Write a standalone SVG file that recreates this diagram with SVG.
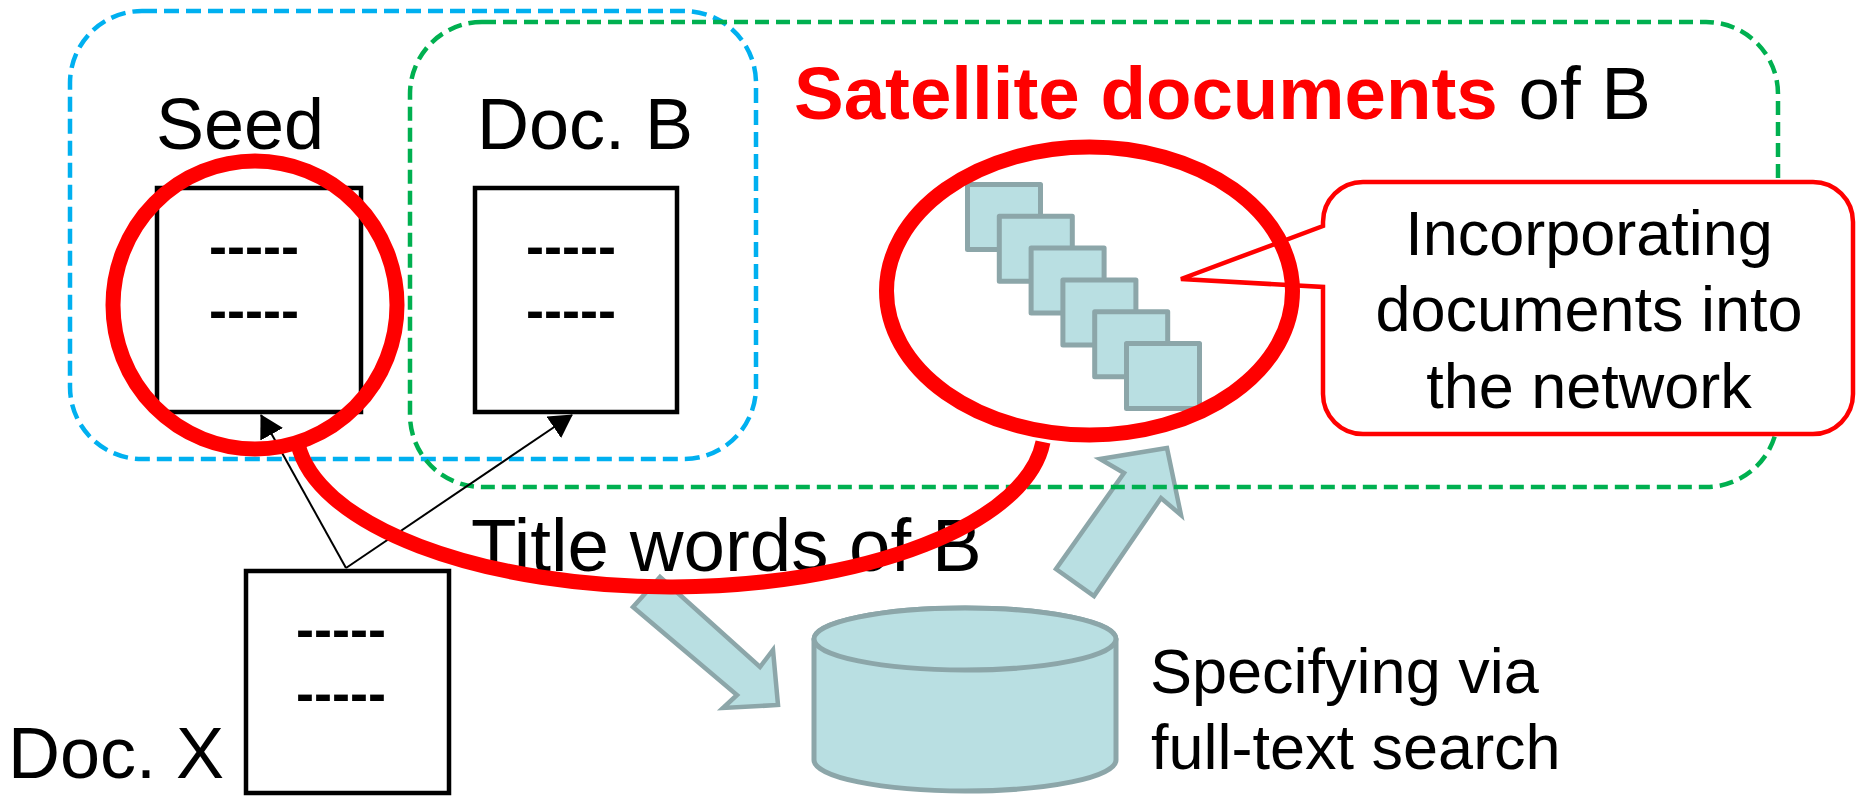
<svg xmlns="http://www.w3.org/2000/svg" width="1858" height="796" viewBox="0 0 1858 796">
  <style>
    text { font-family: "Liberation Sans", Arial, sans-serif; fill: #000; }
    .lbl { font-size: 72px; }
    .big { font-size: 74.5px; }
    .mid { font-size: 63px; }
    .dash { font-size: 54px; font-weight: bold; text-anchor: middle; }
    .doc { fill: #fff; stroke: #000; stroke-width: 4.5; }
    .sat { fill: #b9dfe2; stroke: #8ca6a9; stroke-width: 5; stroke-linejoin: round; }
    .block { fill: #b9dfe2; stroke: #8ca6a9; stroke-width: 4.5; stroke-linejoin: miter; }
    .ring { fill: none; stroke: #ff0000; stroke-width: 15; }
    .grp-blue { fill: none; stroke: #00b0f0; stroke-width: 4.5; stroke-dasharray: 15 7; }
    .grp-green { fill: none; stroke: #00b050; stroke-width: 4.5; stroke-dasharray: 14 7; }
    .link { fill: none; stroke: #000; stroke-width: 2; }
  </style>
  <defs>
    <marker id="tri" viewBox="0 0 23 26" refX="22" refY="13" markerWidth="23" markerHeight="26" markerUnits="userSpaceOnUse" orient="auto">
      <path d="M0,0 L23,13 L0,26 Z" fill="#000"/>
    </marker>
  </defs>

  <rect width="1858" height="796" fill="#fff"/>

  <!-- full-text search: database and the two flow arrows -->
  <g id="search">
    <path class="block" d="M660,577 L633,607 L737,695 L723,708 L778,705 L773,650 L760,667 Z"/>
    <path class="block" d="M1167,448 L1100,459 L1124,473 L1056,569 L1094,596 L1161,498 L1181,515 Z"/>
    <path class="sat" d="M814,639 V760 A151,31 0 0 0 1116,760 V639 A151,31 0 0 0 814,639 Z"/>
    <ellipse class="sat" cx="965" cy="639" rx="151" ry="31"/>
    <text class="mid" x="1150" y="693">Specifying via</text>
    <text class="mid" x="1151" y="769">full-text search</text>
  </g>

  <!-- grouping frames -->
  <g id="frames">
    <rect class="grp-blue" x="70" y="11" width="686" height="448" rx="72" ry="72"/>
    <rect class="grp-green" x="410" y="22" width="1368" height="465" rx="72" ry="72"/>
  </g>

  <!-- callout -->
  <g id="callout">
    <path d="M1363,182 H1813 A40,40 0 0 1 1853,222 V394 A40,40 0 0 1 1813,434 H1363 A40,40 0 0 1 1323,394 V287 L1181,279 L1323,226 V222 A40,40 0 0 1 1363,182 Z" fill="#fff" stroke="#ff0000" stroke-width="4.5" stroke-linejoin="miter"/>
    <text class="mid" x="1589" y="255" text-anchor="middle">Incorporating</text>
    <text class="mid" x="1589" y="331" text-anchor="middle">documents into</text>
    <text class="mid" x="1589" y="408" text-anchor="middle">the network</text>
  </g>

  <!-- documents -->
  <g id="seed">
    <text class="lbl" x="156" y="149">Seed</text>
    <rect class="doc" x="157" y="188" width="204" height="224"/>
    <text class="dash" x="254" y="265">-----</text>
    <text class="dash" x="254" y="329">-----</text>
  </g>
  <g id="doc-b">
    <text class="lbl" x="477" y="149">Doc. B</text>
    <rect class="doc" x="475" y="188" width="202" height="224"/>
    <text class="dash" x="571" y="265">-----</text>
    <text class="dash" x="571" y="329">-----</text>
  </g>
  <g id="doc-x">
    <text class="lbl" x="8" y="778">Doc. X</text>
    <rect class="doc" x="246" y="571" width="203" height="222"/>
    <text class="dash" x="341" y="648">-----</text>
    <text class="dash" x="341" y="712">-----</text>
  </g>

  <!-- citation links from Doc. X -->
  <g id="connectors">
    <path class="link" d="M346,568 L261,415" marker-end="url(#tri)"/>
    <path class="link" d="M346,568 L572,415" marker-end="url(#tri)"/>
  </g>

  <text id="title-words" class="big" x="471" y="571">Title words of B</text>

  <g id="satellite-label">
    <text class="big" x="794" y="119"><tspan font-weight="bold" fill="#ff0000">Satellite documents</tspan> of B</text>
  </g>

  <!-- satellite document stack -->
  <g id="satellites">
    <rect class="sat" x="967.5" y="184.5" width="73" height="65"/>
    <rect class="sat" x="999.3" y="216.3" width="73" height="65"/>
    <rect class="sat" x="1031.1" y="248.1" width="73" height="65"/>
    <rect class="sat" x="1062.9" y="279.9" width="73" height="65"/>
    <rect class="sat" x="1094.7" y="311.7" width="73" height="65"/>
    <rect class="sat" x="1126.5" y="343.5" width="73" height="65"/>
  </g>

  <!-- highlight rings -->
  <g id="highlights">
    <ellipse class="ring" cx="255" cy="305" rx="142" ry="144"/>
    <ellipse class="ring" cx="1089.5" cy="291" rx="203" ry="144"/>
    <path class="ring" d="M298,444 A374,158 0 0 0 1043,442"/>
  </g>
</svg>
